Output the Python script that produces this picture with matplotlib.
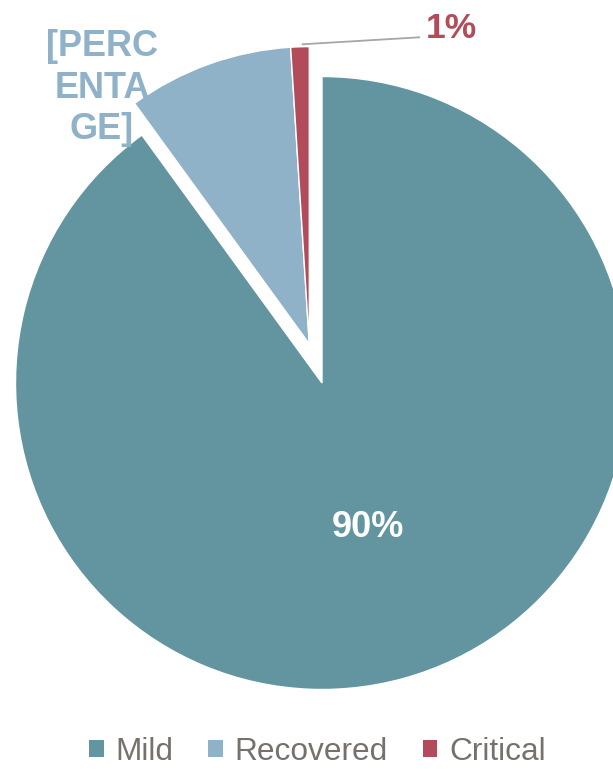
import numpy as np
import matplotlib
matplotlib.use("Agg")
import matplotlib.pyplot as plt

# ---- data ----
categories = ["Mild", "Recovered", "Critical"]
values = [90, 9, 1]
label_texts = ["90%", "[PERC\nENTA\nGE]", "1%"]
colors = ["#6395A1", "#8FB2C9", "#B24C5A"]
exploded = [False, True, True]

plt.rcParams['font.family'] = ['Liberation Sans', 'DejaVu Sans']

W, H, DPI = 613, 769, 100
fig = plt.figure(figsize=(W / DPI, H / DPI), dpi=DPI)

# pie geometry in pixels
R_px = 306.5
cx, cy = 322.0, 383.0
a = 1.3
side = 2 * a * R_px
ax = fig.add_axes([(cx - side / 2) / W, ((H - cy) - side / 2) / H, side / W, side / H])

wedges, _ = ax.pie(values, startangle=90, counterclock=False, colors=colors,
                   wedgeprops=dict(edgecolor="white", linewidth=1.0))

# explode Recovered + Critical together along their common bisector
ex = [w for w, e in zip(wedges, exploded) if e]
t1 = min(w.theta1 for w in ex)
t2 = max(w.theta2 for w in ex)
mid = np.deg2rad((t1 + t2) / 2)
shift = 0.134
for w in ex:
    w.set_center((shift * np.cos(mid), shift * np.sin(mid)))
    w.set_radius(0.97)

ax.set_xlim(-a, a)
ax.set_ylim(-a, a)
ax.set_aspect("equal")
ax.axis("off")

# data labels
ax.text(0.150, -0.470, label_texts[0], color="white", fontsize=26, fontweight="bold",
        ha="center", va="center")
ax.text(-0.718, 0.962, label_texts[1], color=colors[1], fontsize=26, fontweight="bold",
        ha="center", va="center", linespacing=1.24)
ax.text(0.4225, 1.155, label_texts[2], color=colors[2], fontsize=25.5, fontweight="bold",
        ha="center", va="center")
ax.plot([-0.066, 0.320], [1.105, 1.128], color="#A6A6A6", linewidth=1.3,
        solid_capstyle="butt")

leg = fig.legend(wedges, categories, loc="center", bbox_to_anchor=(317.5 / W, (H - 752) / H),
                 ncol=3, frameon=False, fontsize=22.8, handlelength=0.45, handleheight=0.45,
                 handletextpad=0.38, columnspacing=1.1, borderaxespad=0)
for t in leg.get_texts():
    t.set_color("#76716B")
for h in leg.legend_handles:
    h.set_edgecolor("none")

fig.savefig("out.png", dpi=DPI)
